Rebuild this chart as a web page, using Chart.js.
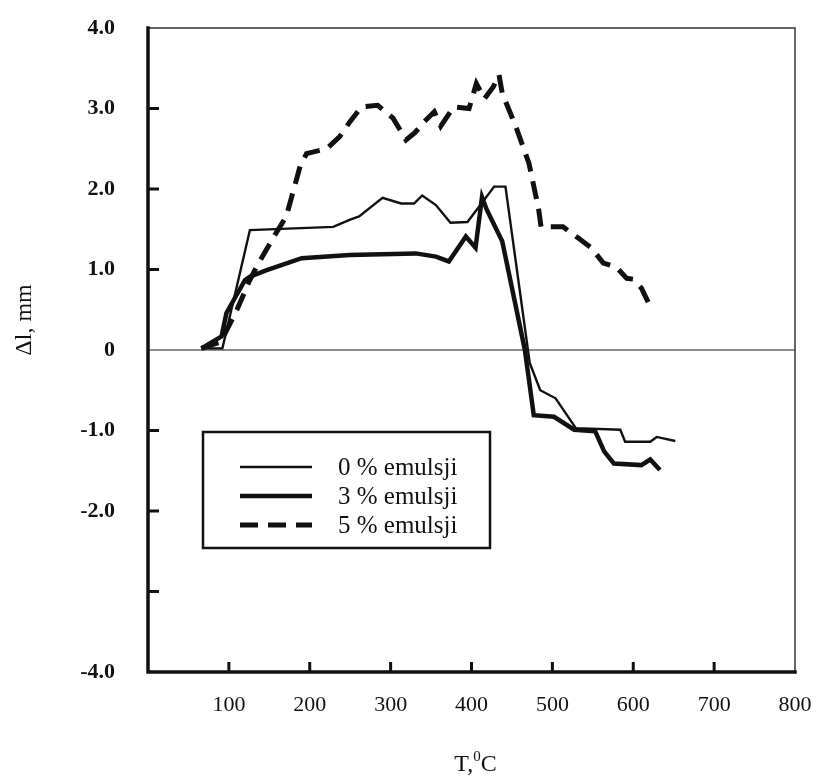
<!DOCTYPE html>
<html>
<head>
<meta charset="utf-8">
<title>Δl vs T</title>
<script src="https://cdn.jsdelivr.net/npm/chart.js@4.4.1/dist/chart.umd.min.js"></script>
<style>
  html, body { margin: 0; padding: 0; background: #ffffff; }
  #wrap { width: 822px; height: 776px; }
</style>
</head>
<body>
<div id="wrap"><canvas id="dilatChart" width="822" height="776"></canvas></div>
<script>
// temperatures (T, °C) and elongation (Δl, mm)
const t0 = [66, 92, 126, 229, 250, 261, 290, 313, 329, 339, 356, 374, 395, 428, 442, 472, 485, 504, 529, 584, 590, 621, 629, 652];
const e0 = [0.02, 0.02, 1.49, 1.53, 1.62, 1.66, 1.89, 1.82, 1.82, 1.92, 1.80, 1.58, 1.59, 2.03, 2.03, -0.16, -0.50, -0.60, -0.97, -0.99, -1.14, -1.14, -1.08, -1.13];

const t3 = [66, 91, 97, 120, 126, 146, 190, 249, 331, 356, 372, 393, 405, 413, 419, 438, 466, 477, 502, 527, 553, 564, 576, 610, 621, 633];
const e3 = [0.02, 0.17, 0.46, 0.87, 0.91, 0.99, 1.14, 1.18, 1.20, 1.16, 1.10, 1.41, 1.27, 1.90, 1.74, 1.35, 0.0, -0.81, -0.83, -0.99, -1.01, -1.26, -1.41, -1.43, -1.36, -1.49];

const t5 = [66, 90, 110, 125, 134, 157, 171, 188, 196, 221, 237, 250, 264, 284, 303, 319, 330, 342, 354, 362, 378, 397, 406, 416, 427, 434, 438, 455, 471, 483, 486, 494, 513, 532, 548, 563, 579, 592, 600, 610, 622];
const e5 = [0.02, 0.1, 0.5, 0.85, 1.03, 1.43, 1.66, 2.28, 2.44, 2.5, 2.65, 2.84, 3.02, 3.04, 2.88, 2.61, 2.7, 2.84, 2.96, 2.78, 3.02, 3.0, 3.31, 3.12, 3.27, 3.42, 3.19, 2.77, 2.32, 1.75, 1.53, 1.53, 1.53, 1.39, 1.27, 1.08, 1.03, 0.89, 0.88, 0.77, 0.52];

const seriesNames = ['0 % emulsji', '3 % emulsji', '5 % emulsji'];
const xTicks = [100, 200, 300, 400, 500, 600, 700];
const yTicks = [3, 2, 1, -1, -2, -3];

(function() {
    "use strict";
    const ink = '#111111';
    const serif = '"Liberation Serif", "Times New Roman", serif';

    const pts = (xs, ys) => xs.map((x, i) => ({ x: x, y: ys[i] }));

    // frame, inward ticks, zero line, titles and boxed legend
    const decor = {
        id: 'decor',
        beforeDatasetsDraw(chart) {
            const { ctx, chartArea: a, scales: { y } } = chart;
            const y0 = y.getPixelForValue(0);
            ctx.save();
            ctx.strokeStyle = '#8c8c8c';
            ctx.lineWidth = 2;
            ctx.beginPath();
            ctx.moveTo(a.left, y0);
            ctx.lineTo(a.right, y0);
            ctx.stroke();
            ctx.restore();
        },
        afterDraw(chart) {
            const { ctx, chartArea: a, scales: { x, y } } = chart;
            ctx.save();
            // top and right thin
            ctx.strokeStyle = '#333';
            ctx.lineWidth = 1.5;
            ctx.beginPath();
            ctx.moveTo(a.left, a.top);
            ctx.lineTo(a.right, a.top);
            ctx.lineTo(a.right, a.bottom);
            ctx.stroke();
            // left and bottom thick
            ctx.strokeStyle = ink;
            ctx.lineWidth = 3.5;
            ctx.lineCap = 'square';
            ctx.beginPath();
            ctx.moveTo(a.left, a.top);
            ctx.lineTo(a.left, a.bottom);
            ctx.lineTo(a.right, a.bottom);
            ctx.stroke();
            ctx.lineCap = 'butt';
            ctx.lineWidth = 3;
            ctx.beginPath();
            xTicks.forEach(v => {
                const px = x.getPixelForValue(v);
                ctx.moveTo(px, a.bottom);
                ctx.lineTo(px, a.bottom - 10);
            });
            yTicks.forEach(v => {
                const py = y.getPixelForValue(v);
                ctx.moveTo(a.left, py);
                ctx.lineTo(a.left + 11, py);
            });
            ctx.stroke();

            // axis titles
            ctx.fillStyle = ink;
            ctx.textBaseline = 'middle';
            ctx.font = '24px ' + serif;
            const tx = x.getPixelForValue(405);
            const ty = 765;
            const w1 = ctx.measureText('T,').width;
            ctx.font = '15px ' + serif;
            const w2 = ctx.measureText('0').width;
            ctx.font = '24px ' + serif;
            const w3 = ctx.measureText('C').width;
            let sx = tx - (w1 + w2 + w3) / 2;
            ctx.textAlign = 'left';
            ctx.fillText('T,', sx, ty);
            ctx.font = '15px ' + serif;
            ctx.fillText('0', sx + w1, ty - 8);
            ctx.font = '24px ' + serif;
            ctx.fillText('C', sx + w1 + w2, ty);

            ctx.save();
            ctx.translate(25, 320);
            ctx.rotate(-Math.PI / 2);
            ctx.textAlign = 'center';
            ctx.fillText('Δl, mm', 0, 0);
            ctx.restore();

            // legend box
            const box = { l: 203, t: 432, r: 490, b: 548 };
            ctx.fillStyle = '#ffffff';
            ctx.fillRect(box.l, box.t, box.r - box.l, box.b - box.t);
            ctx.strokeStyle = ink;
            ctx.lineWidth = 2.5;
            ctx.strokeRect(box.l, box.t, box.r - box.l, box.b - box.t);
            ctx.font = '25px ' + serif;
            ctx.textAlign = 'left';
            ctx.fillStyle = ink;
            chart.data.datasets.forEach((ds, i) => {
                const ry = 467 + i * 29;
                ctx.strokeStyle = ds.borderColor;
                ctx.lineWidth = ds.borderWidth;
                ctx.setLineDash(ds.borderDash || []);
                ctx.beginPath();
                ctx.moveTo(240, ry);
                ctx.lineTo(312, ry);
                ctx.stroke();
                ctx.setLineDash([]);
                ctx.fillText(seriesNames[i], 338, ry + 1);
            });
            ctx.restore();
        }
    };

    document.addEventListener("DOMContentLoaded", () => {
        const c1 = document.getElementById('dilatChart');
        new Chart(c1, {
            type: 'scatter',
            data: {
                datasets: [{
                    label: seriesNames[0],
                    data: pts(t0, e0),
                    borderColor: ink,
                    borderWidth: 2.4
                }, {
                    label: seriesNames[1],
                    data: pts(t3, e3),
                    borderColor: ink,
                    borderWidth: 4.5
                }, {
                    label: seriesNames[2],
                    data: pts(t5, e5),
                    borderColor: ink,
                    borderWidth: 5,
                    borderDash: [18, 10]
                }]
            },
            options: {
                responsive: false,
                animation: false,
                showLine: true,
                elements: {
                    point: { radius: 0, hoverRadius: 0 },
                    line: { tension: 0, fill: false, borderJoinStyle: 'miter' }
                },
                layout: { padding: { left: 0, right: 27, top: 28, bottom: 0 } },
                plugins: {
                    legend: { display: false },
                    tooltip: { enabled: false }
                },
                scales: {
                    x: {
                        type: 'linear',
                        min: 0,
                        max: 800,
                        afterFit: s => {
                            s.height = 104;
                            s.paddingLeft = 0;
                            s.paddingRight = 0;
                        },
                        afterBuildTicks: s => { s.ticks = [0, 100, 200, 300, 400, 500, 600, 700, 800].map(v => ({ value: v })); },
                        grid: { display: false, drawTicks: false },
                        border: { display: false },
                        ticks: {
                            color: ink,
                            padding: 20,
                            maxRotation: 0,
                            autoSkip: false,
                            font: { family: serif, size: 22 },
                            callback: v => (v === 0 ? '' : String(v))
                        }
                    },
                    y: {
                        type: 'linear',
                        min: -4,
                        max: 4,
                        afterFit: s => {
                            s.width = 148;
                            s.paddingTop = 0;
                            s.paddingBottom = 0;
                        },
                        afterBuildTicks: s => { s.ticks = [-4, -3, -2, -1, 0, 1, 2, 3, 4].map(v => ({ value: v })); },
                        grid: { display: false, drawTicks: false },
                        border: { display: false },
                        ticks: {
                            color: ink,
                            padding: 33,
                            autoSkip: false,
                            font: { family: serif, size: 22, weight: 'bold' },
                            callback: v => (v === 0 ? '0' : v === -3 ? '' : v.toFixed(1))
                        }
                    }
                }
            },
            plugins: [decor]
        });
    });
})();
</script>
</body>
</html>
